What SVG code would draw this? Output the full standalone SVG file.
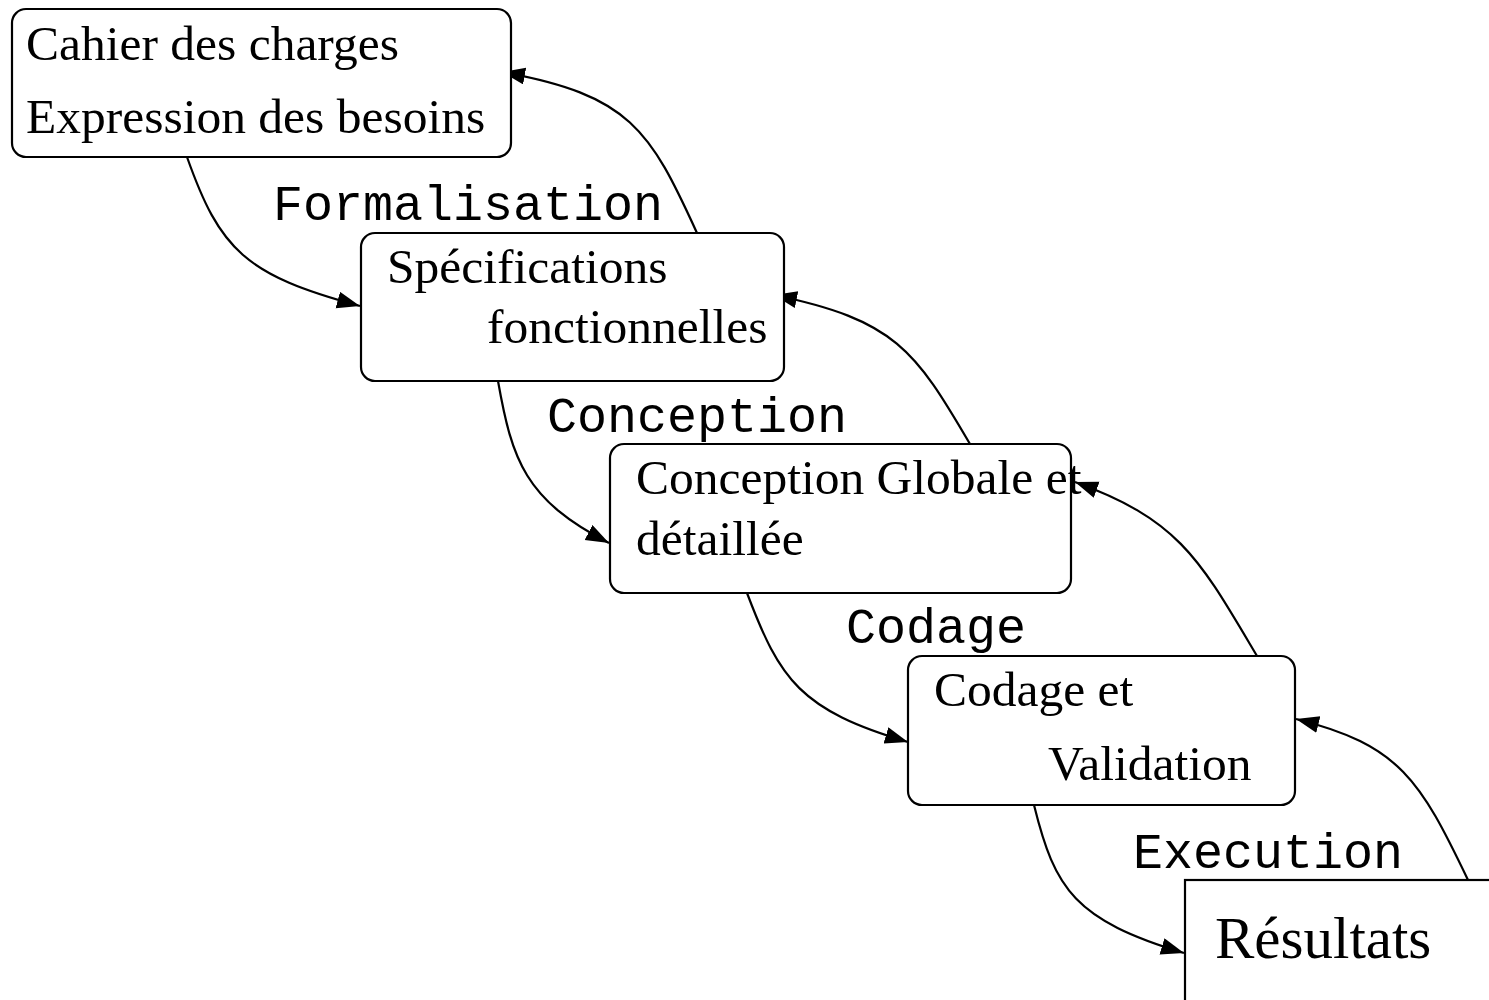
<svg xmlns="http://www.w3.org/2000/svg" width="1489" height="1000" viewBox="0 0 1489 1000">
<style>
.box{fill:#fff;stroke:#000;stroke-width:2.2}
.t{font-family:"Liberation Serif","Times New Roman",serif;font-size:49.5px;fill:#000}
.big{font-size:59px}
.lbl{font-family:"Liberation Mono","Courier New",monospace;font-size:50px;fill:#000}
.edge{fill:none;stroke:#000;stroke-width:2.2;marker-end:url(#arr)}
</style>
<defs>
<marker id="arr" markerUnits="userSpaceOnUse" markerWidth="26" markerHeight="20" refX="23" refY="8.5" orient="auto" viewBox="0 0 26 20">
<path d="M0,0 L23,8.5 L0,17 Z" fill="#000"/>
</marker>
</defs>
<rect width="1489" height="1000" fill="#fff"/>
<g id="connectors">
<path class="edge" d="M187,157 C220,250 245,275 360,306"/>
<path class="edge" d="M697,233 C650,130 630,95 502,72"/>
<path class="edge" d="M498,381 C512,460 525,500 609,543"/>
<path class="edge" d="M970,444 C915,350 895,320 774,295"/>
<path class="edge" d="M747,593 C780,680 800,710 908,742"/>
<path class="edge" d="M1257,656 C1200,560 1180,520 1075,482"/>
<path class="edge" d="M1034,805 C1055,890 1075,920 1184,953"/>
<path class="edge" d="M1468,880 C1420,780 1400,745 1296,719"/>
</g>
<g id="labels">
<text class="lbl" x="273" y="220">Formalisation</text>
<text class="lbl" x="547" y="432">Conception</text>
<text class="lbl" x="846" y="643">Codage</text>
<text class="lbl" x="1133" y="868">Execution</text>
</g>
<g id="n1">
<rect class="box" x="12" y="9" width="499" height="148" rx="14"/>
<text class="t" x="26" y="60">Cahier des charges</text>
<text class="t" x="26" y="133">Expression des besoins</text>
</g>
<g id="n2">
<rect class="box" x="361" y="233" width="423" height="148" rx="14"/>
<text class="t" x="387" y="283">Spécifications</text>
<text class="t" x="487" y="343">fonctionnelles</text>
</g>
<g id="n3">
<rect class="box" x="610" y="444" width="461" height="149" rx="14"/>
<text class="t" x="636" y="494">Conception Globale et</text>
<text class="t" x="636" y="555">détaillée</text>
</g>
<g id="n4">
<rect class="box" x="908" y="656" width="387" height="149" rx="14"/>
<text class="t" x="934" y="706">Codage et</text>
<text class="t" x="1048" y="780">Validation</text>
</g>
<g id="n5">
<rect class="box" x="1185" y="880" width="330" height="140"/>
<text class="t big" x="1215" y="958">Résultats</text>
</g>
</svg>
